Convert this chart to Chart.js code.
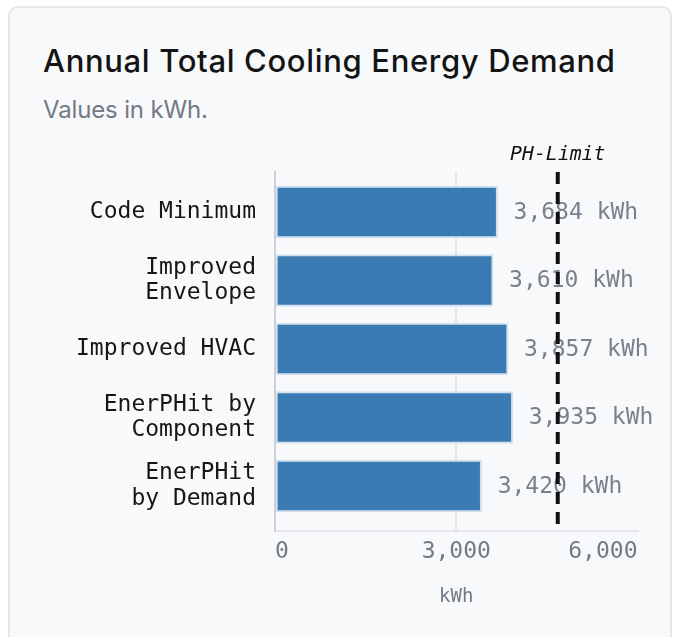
<!DOCTYPE html>
<html>
<head>
<meta charset="utf-8">
<script src="https://cdn.jsdelivr.net/npm/chart.js@4/dist/chart.umd.min.js"></script>
<style>
  html, body { margin: 0; padding: 0; background: #ffffff; }
  body { width: 673px; height: 637px; position: relative; overflow: hidden; }
  #card {
    position: absolute; left: 8px; top: 6px; width: 660px; height: 660px;
    background: #f8f9fb; border: 2px solid #e6e7ea; border-radius: 10px;
  }
  #title {
    position: absolute; left: 43px; top: 45px; margin: 0;
    font-family: Inter, "Noto Sans", sans-serif; font-weight: 500; font-size: 31px; line-height: 31px;
    color: #141414; white-space: nowrap;
  }
  #subtitle {
    position: absolute; left: 43px; top: 98px; margin: 0;
    font-family: Inter, "Noto Sans", sans-serif; font-weight: 400; font-size: 24px; line-height: 24px;
    color: #737a86; white-space: nowrap;
  }
  #chart { position: absolute; left: 0; top: 0; }
</style>
</head>
<body>
<div id="card"></div>
<div id="title">Annual Total Cooling Energy Demand</div>
<div id="subtitle">Values in kWh.</div>
<canvas id="chart" width="673" height="637"></canvas>
<script>
// ---- data ----
const categories = ["Code Minimum", "Improved Envelope", "Improved HVAC", "EnerPHit by Component", "EnerPHit by Demand"];
const categoryTickLabels = [["Code Minimum"], ["Improved", "Envelope"], ["Improved HVAC"], ["EnerPHit by", "Component"], ["EnerPHit", "by Demand"]];
const coolingDemand = [3684, 3610, 3857, 3935, 3420];
const phLimit = 4680;
const phLimitLabel = "PH-Limit";
const xTickValues = [0, 3000, 6000];
const valueUnit = "kWh";
const axisTitle = "kWh";

// fit title widths
function fit(id, target) {
  const el = document.getElementById(id);
  const w = el.getBoundingClientRect().width;
  const n = el.textContent.length;
  el.style.letterSpacing = ((target - w) / (n - 1)) + "px";
}
fit("title", 572);
fit("subtitle", 165);

const MONO = '"DejaVu Sans Mono", "Liberation Mono", monospace';

const valueLabels = {
  id: "valueLabels",
  afterDatasetsDraw(chart) {
    const ctx = chart.ctx;
    const meta = chart.getDatasetMeta(0);
    ctx.save();
    ctx.font = '23px ' + MONO;
    ctx.fillStyle = "#7a808c";
    ctx.textAlign = "left";
    ctx.textBaseline = "middle";
    meta.data.forEach((bar, i) => {
      const v = coolingDemand[i];
      ctx.fillText(v.toLocaleString("en-US") + " " + valueUnit, bar.x + 16, bar.y + 1);
    });
    ctx.restore();
  }
};

const limitLine = {
  id: "limitLine",
  afterDraw(chart) {
    const ctx = chart.ctx;
    const x = chart.scales.x.getPixelForValue(phLimit);
    const {top, bottom} = chart.chartArea;
    ctx.save();
    ctx.strokeStyle = "#111111";
    ctx.lineWidth = 4;
    ctx.setLineDash([12, 8]);
    ctx.beginPath();
    ctx.moveTo(x, top);
    ctx.lineTo(x, bottom);
    ctx.stroke();
    ctx.setLineDash([]);
    ctx.font = 'italic 19.8px ' + MONO;
    ctx.fillStyle = "#111111";
    ctx.textAlign = "center";
    ctx.textBaseline = "alphabetic";
    ctx.fillText(phLimitLabel, x, top - 12);
    ctx.restore();
  }
};

new Chart(document.getElementById("chart"), {
  type: "bar",
  data: {
    labels: categories,
    datasets: [{
      label: "Annual Total Cooling Energy Demand",
      data: coolingDemand.map((v, i) => ({ x: v, y: i })),
      backgroundColor: "#3b7bb3",
      borderColor: "#d3e1ee",
      borderWidth: 2,
      borderSkipped: false,
      barThickness: 52
    }]
  },
  options: {
    indexAxis: "y",
    responsive: false,
    devicePixelRatio: 1,
    animation: false,
    layout: { padding: { top: 172, right: 35.5, bottom: 0, left: 0 } },
    plugins: { legend: { display: false }, tooltip: { enabled: false }, title: { display: false } },
    scales: {
      x: {
        type: "linear",
        min: 0, max: 6000,
        afterBuildTicks: (s) => { s.ticks = xTickValues.map(v => ({ value: v })); },
        afterFit: (s) => { s.height = 106; },
        ticks: {
          align: "inner",
          padding: 7,
          color: "#737a86",
          font: { family: MONO, size: 23 },
          callback: (v) => Number(v).toLocaleString("en-US")
        },
        grid: {
          drawTicks: false,
          lineWidth: 2,
          color: (c) => (c.tick && c.tick.value === 3000) ? "#e4e6e9" : "rgba(0,0,0,0)"
        },
        border: { display: true, color: "#e4e6e9", width: 2 },
        title: {
          display: true, text: axisTitle, color: "#737a86",
          font: { family: MONO, size: 19 },
          padding: { top: 0, bottom: 29 }
        }
      },
      y: {
        type: "linear",
        reverse: true,
        offset: false,
        bounds: "data",
        min: -0.584, max: 4.657,
        z: 1,
        afterDataLimits: (s) => { s.min = -0.584; s.max = 4.657; },
        afterBuildTicks: (s) => { s.ticks = categories.map((c, i) => ({ value: i })); },
        afterFit: (s) => { s.width = 275; },
        ticks: {
          autoSkip: false,
          padding: 19,
          color: "#161616",
          font: { family: MONO, size: 23, lineHeight: 1.1 },
          callback: (v) => categoryTickLabels[v]
        },
        grid: { display: false, drawTicks: false, offset: false },
        border: { display: true, color: "#cdd0d6", width: 2 }
      }
    }
  },
  plugins: [valueLabels, limitLine]
});
</script>
</body>
</html>
